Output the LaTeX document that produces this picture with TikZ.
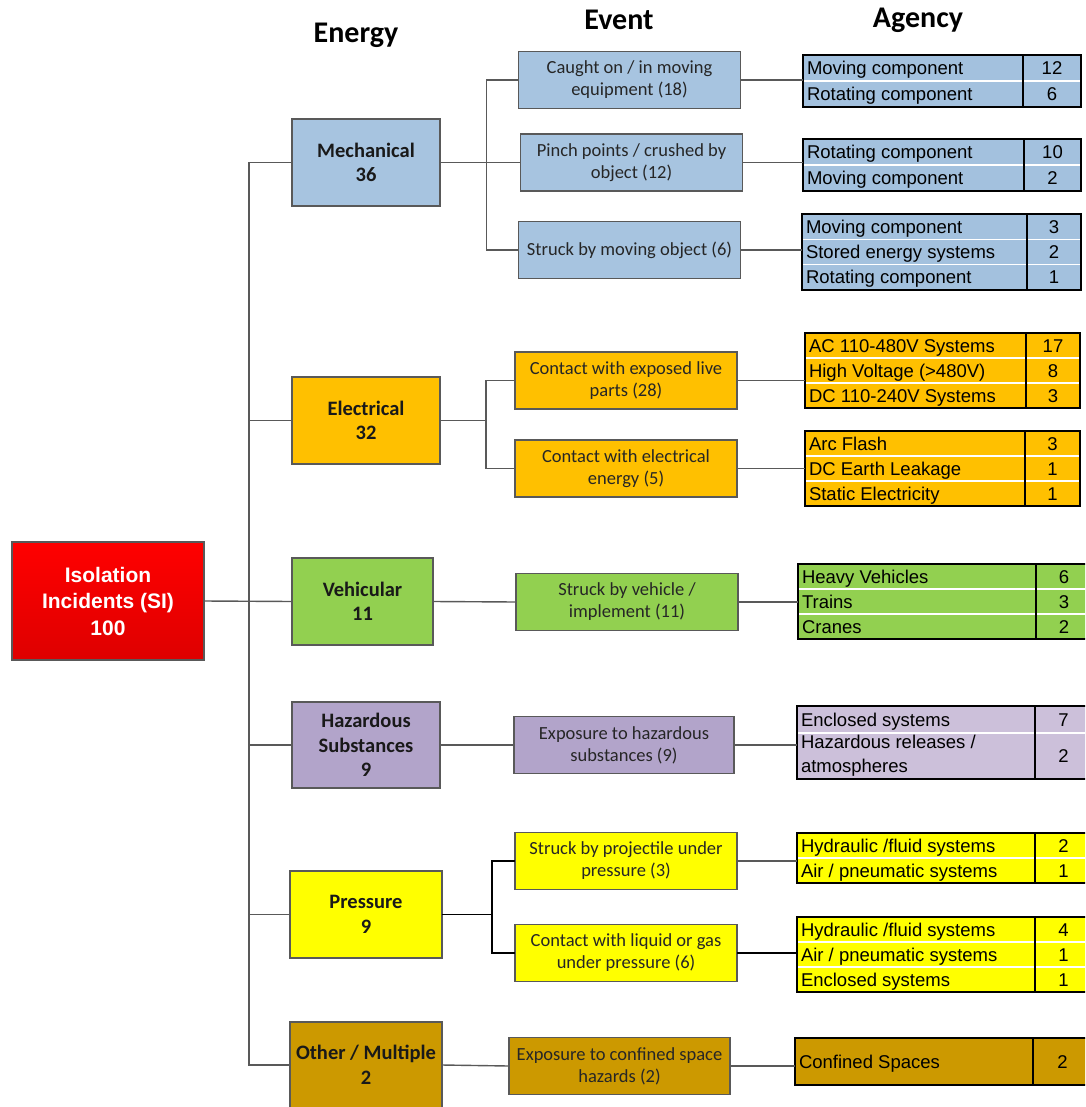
\documentclass[tikz,border=0pt]{standalone}
\usepackage{fontspec}
\usepackage{tikz}
\newfontfamily\carlito{Carlito}
\newfontfamily\arialfont{Liberation Sans}
\definecolor{mechblue}{RGB}{167,196,224}
\definecolor{mechtab}{RGB}{163,193,222}
\definecolor{elecorange}{RGB}{255,192,0}
\definecolor{vehgreen}{RGB}{146,208,80}
\definecolor{hazlilac}{RGB}{178,164,202}
\definecolor{hazlight}{RGB}{204,192,218}
\definecolor{presyellow}{RGB}{255,255,0}
\definecolor{othergold}{RGB}{204,153,0}
\definecolor{rootred}{RGB}{255,0,0}
\definecolor{rootdark}{RGB}{222,0,0}
\definecolor{edgegray}{RGB}{89,89,89}
% name, fill, left, top, right, bottom, divider, row height, rows
\newcommand{\agencytable}[9]{%
  \node[agbox,fill=#2,minimum width={#5-#3},minimum height={#6-#4}]
    (#1) at ({(#3+#5)/2},{(#4+#6)/2}) {};
  \foreach \txt/\num [count=\i] in {#9} {
    \node[agtext,anchor=base west] (#1-t\i) at ({#3+4},{#4+(\i-0.5)*#8+6.5}) {\txt};
    \node[agtext,anchor=base] (#1-n\i) at ({(#7+#5)/2},{#4+(\i-0.5)*#8+6.5}) {\num};
    \ifnum\i>1 \draw[agrule] (#3,{#4+(\i-1)*#8}) -- (#5,{#4+(\i-1)*#8}); \fi
  }
  \draw[agframe] (#7,#4) -- (#7,#6);
  \draw[agframe] (#3,#4) rectangle (#5,#6);
}

\begin{document}
\begin{tikzpicture}[x=1pt,y=-1pt,
    every node/.style={inner sep=0pt,outer sep=0pt},
    conn/.style={draw=edgegray,line width=1.4pt},
    energybox/.style={draw=edgegray,line width=1.5pt,align=center,
      font={\carlito\bfseries\fontsize{20.5}{24.5}\selectfont},text=black!90},
    eventbox/.style={draw=edgegray,line width=1.4pt,align=center,
      minimum width=222,minimum height=57,
      font={\carlito\fontsize{18.5}{22}\selectfont},text=black!85},
    header/.style={font={\carlito\bfseries\fontsize{30}{36}\selectfont}},
    agbox/.style={draw=none},
    agtext/.style={font={\arialfont\fontsize{18.5}{22}\selectfont}},
    agrule/.style={draw=white!80,line width=1.3pt},
    agframe/.style={draw=black,line width=2pt}]
  \clip (0,0) rectangle (1085,1107);

  % column headers
  \node[header] (hEnergy) at (356,35) {Energy};
  \node[header] (hEvent) at (619,20) {Event};
  \node[header] (hAgency) at (918,20) {Agency};

  % root
  \node[draw=edgegray,line width=1.5pt,top color=rootred,bottom color=rootdark,
        minimum width=192,minimum height=118,align=center,text=white,
        font={\arialfont\bfseries\fontsize{21}{26.5}\selectfont}]
    (root) at (108,601) {Isolation\\Incidents (SI)\\100};

  % energy
  \node[energybox,fill=mechblue,minimum width=148,minimum height=87]
    (mech) at (366,162.5) {Mechanical\\36};
  \node[energybox,fill=elecorange,minimum width=148,minimum height=87]
    (elec) at (366,420.5) {Electrical\\32};
  \node[energybox,fill=vehgreen,minimum width=141,minimum height=87]
    (veh) at (362.5,601.5) {Vehicular\\11};
  \node[energybox,fill=hazlilac,minimum width=148,minimum height=86]
    (haz) at (366,745) {Hazardous\\Substances\\9};
  \node[energybox,fill=presyellow,minimum width=152,minimum height=87]
    (pres) at (366,914.5) {Pressure\\9};
  \node[energybox,fill=othergold,minimum width=152,minimum height=86]
    (oth) at (366,1065) {Other / Multiple\\2};

  % events
  \node[eventbox,fill=mechblue] (ev1) at (629.5,80) {Caught on / in moving\\equipment (18)};
  \node[eventbox,fill=mechblue] (ev2) at (631.5,162.5) {Pinch points / crushed by\\object (12)};
  \node[eventbox,fill=mechblue] (ev3) at (629.5,250) {Struck by moving object (6)};
  \node[eventbox,fill=elecorange] (ev4) at (626,380.5) {Contact with exposed live\\parts (28)};
  \node[eventbox,fill=elecorange] (ev5) at (626,468.5) {Contact with electrical\\energy (5)};
  \node[eventbox,fill=vehgreen] (ev6) at (627,602) {Struck by vehicle /\\implement (11)};
  \node[eventbox,fill=hazlilac,minimum width=220] (ev7) at (624,745) {Exposure to hazardous\\substances (9)};
  \node[eventbox,fill=presyellow] (ev8) at (626,861) {Struck by projectile under\\pressure (3)};
  \node[eventbox,fill=presyellow] (ev9) at (626,953) {Contact with liquid or gas\\under pressure (6)};
  \node[eventbox,fill=othergold,minimum width=221] (ev10) at (619.5,1066) {Exposure to confined space\\hazards (2)};

  % trunk
  \coordinate (trunk) at (249,602);
  \draw[conn] (mech.west) -| (trunk) |- (oth.west);
  \draw[conn] (root.east) -- (veh.west);
  \draw[conn] (elec.west) -- (elec.west -| trunk);
  \draw[conn] (haz.west) -- (haz.west -| trunk);
  \draw[conn] (pres.west) -- (pres.west -| trunk);

  % energy to event
  \coordinate (mechfork) at (486.5,162.5);
  \draw[conn] (mech.east) -- (mechfork);
  \draw[conn] (ev1.west) -| (mechfork) |- (ev3.west);
  \draw[conn] (mechfork) -- (ev2.west);
  \coordinate (elecfork) at (486,420.5);
  \draw[conn] (elec.east) -- (elecfork);
  \draw[conn] (ev4.west) -| (elecfork) |- (ev5.west);
  \draw[conn] (veh.east) -- (ev6.west);
  \draw[conn] (haz.east) -- (ev7.west);
  \coordinate (presfork) at (492,914.5);
  \draw[conn,draw=black] (pres.east) -- (presfork);
  \draw[conn,draw=black] (ev8.west) -| (presfork) |- (ev9.west);
  \draw[conn] (oth.east) -- (ev10.west);

  % agency tables
  \agencytable{ag1}{mechtab}{803}{55}{1081}{107}{1023}{26}{Moving component/12,Rotating component/6}
  \agencytable{ag2}{mechtab}{803}{139}{1081}{191}{1024}{26}{Rotating component/10,Moving component/2}
  \agencytable{ag3}{mechtab}{802}{214}{1081}{290}{1027}{25.33}{Moving component/3,Stored energy systems/2,Rotating component/1}
  \agencytable{ag4}{elecorange}{805}{333}{1080}{408}{1026}{25}{AC 110-480V Systems/17,High Voltage (>480V)/8,DC 110-240V Systems/3}
  \agencytable{ag5}{elecorange}{805}{431}{1080}{506}{1025}{25}{Arc Flash/3,DC Earth Leakage/1,Static Electricity/1}
  \agencytable{ag6}{vehgreen}{798}{564}{1092}{639}{1036}{25}{Heavy Vehicles/6,Trains/3,Cranes/2}
  \agencytable{ag7}{hazlight}{797}{706}{1092}{779}{1035}{27}{Enclosed systems/7}
  \draw[agrule] (798,733) -- (1091,733);
  \draw[agframe] (1035,706) -- (1035,779);
  \node[agtext,anchor=west,align=left] (ag7-t2) at (801,756) {Hazardous releases /\\[2pt]atmospheres};
  \node[agtext,anchor=base] (ag7-n2) at (1063.5,762.5) {2};
  \agencytable{ag8}{presyellow}{797}{833}{1092}{883}{1035}{25}{{Hydraulic /fluid systems}/2,{Air / pneumatic systems}/1}
  \agencytable{ag9}{presyellow}{797}{917}{1092}{992}{1035}{25}{{Hydraulic /fluid systems}/4,{Air / pneumatic systems}/1,Enclosed systems/1}
  \agencytable{ag10}{othergold}{795}{1038}{1092}{1085}{1033}{47}{Confined Spaces/2}

  % event to agency
  \draw[conn] (ev1.east) -- (ev1.east -| ag1.west);
  \draw[conn] (ev2.east) -- (ev2.east -| ag2.west);
  \draw[conn] (ev3.east) -- (ev3.east -| ag3.west);
  \draw[conn] (ev4.east) -- (ev4.east -| ag4.west);
  \draw[conn] (ev5.east) -- (ev5.east -| ag5.west);
  \draw[conn] (ev6.east) -- (ev6.east -| ag6.west);
  \draw[conn] (ev7.east) -- (ev7.east -| ag7.west);
  \draw[conn] (ev8.east) -- (ev8.east -| ag8.west);
  \draw[conn,draw=black] (ev9.east) -- (ev9.east -| ag9.west);
  \draw[conn] (ev10.east) -- (ev10.east -| ag10.west);
\end{tikzpicture}
\end{document}
